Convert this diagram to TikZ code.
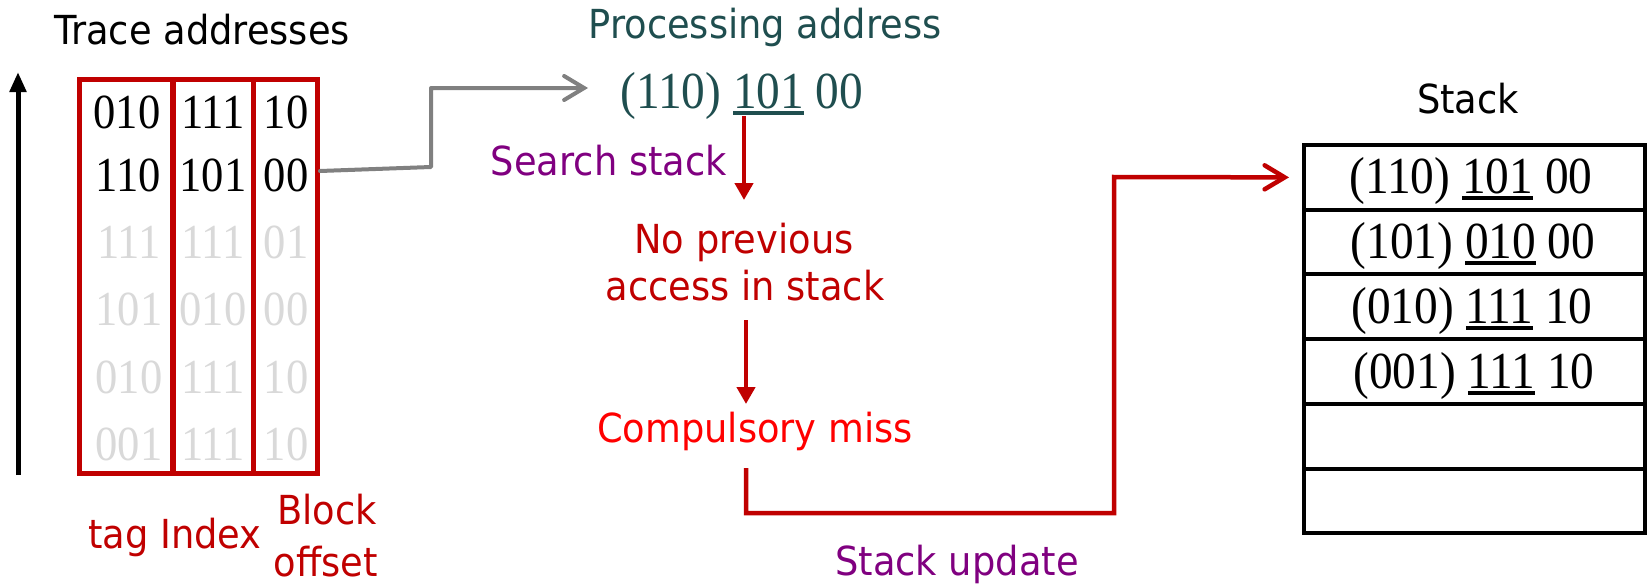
\documentclass[tikz,border=0pt]{standalone}
\usepackage{fontspec}
\setmainfont[FakeStretch=0.91]{Liberation Serif}
\newfontfamily\labelfont[FakeStretch=0.92]{DejaVu Sans}
\usetikzlibrary{arrows.meta}

\definecolor{boxred}{RGB}{192,0,0}
\definecolor{brightred}{RGB}{255,0,0}
\definecolor{purp}{RGB}{128,0,128}
\definecolor{tealtext}{RGB}{31,78,79}
\definecolor{faint}{RGB}{217,217,217}
\definecolor{conngray}{RGB}{128,128,128}

% underlined index field
\newcommand\undl[1]{\setbox0\hbox{#1}\rlap{\vrule height -3pt depth 6.5pt width \wd0}\box0\relax}

\begin{document}
\begin{tikzpicture}[x=1pt,y=-1pt,
  lbl/.style={font=\labelfont\fontsize{40}{48}\selectfont, inner sep=0pt, anchor=base},
  num/.style={font=\fontsize{49}{56}\selectfont, inner sep=0pt, anchor=base},
  addrtxt/.style={font=\fontsize{52}{60}\selectfont, inner sep=0pt, anchor=base},
  col/.style={draw=boxred, line width=5pt, inner sep=0pt, minimum height=394pt},
  cell/.style={draw=black, line width=4pt, minimum width=341pt, minimum height=64.7pt, inner sep=0pt},
  flow/.style={draw=boxred, line width=4.5pt, -{Triangle[width=18pt,length=17pt]}},
  barb/.style={line width=4pt, line cap=round, line join=round,
    -{Straight Barb[length=20pt,width=24pt,line cap=round]}}
]
\useasboundingbox (0,0) rectangle (1648,586);

% time axis
\coordinate (ax0) at (18,475);
\coordinate (ax1) at (18,72);
\draw[line width=5pt, -{Triangle[width=16pt,length=20pt]}] (ax0) -- (ax1);

\node[lbl] (trace) at (202,45) {Trace addresses};

% address fields
\node[col, minimum width=93pt] (tagcol) at (126,276) {};
\node[col, minimum width=80pt] (idxcol) at (213,276) {};
\node[col, minimum width=64pt] (offcol) at (285,276) {};

\node[num] (t1) at (127,128) {010};
\node[num] (i1) at (213,128) {111};
\node[num] (o1) at (286,128) {10};
\node[num] (t2) at (128,191) {110};
\node[num] (i2) at (213,191) {101};
\node[num] (o2) at (286,191) {00};
\node[num, text=faint] (t3) at (129,258) {111};
\node[num, text=faint] (i3) at (213,258) {111};
\node[num, text=faint] (o3) at (286,258) {01};
\node[num, text=faint] (t4) at (129,325) {101};
\node[num, text=faint] (i4) at (213,325) {010};
\node[num, text=faint] (o4) at (286,325) {00};
\node[num, text=faint] (t5) at (129,393) {010};
\node[num, text=faint] (i5) at (213,393) {111};
\node[num, text=faint] (o5) at (286,393) {10};
\node[num, text=faint] (t6) at (129,460) {001};
\node[num, text=faint] (i6) at (213,460) {111};
\node[num, text=faint] (o6) at (286,460) {10};

\node[lbl, text=boxred] (fields) at (175,548) {tag Index};
\node[lbl, text=boxred] (blk1) at (327,524) {Block};
\node[lbl, text=boxred] (blk2) at (326,576) {offset};

% address being processed
\node[lbl, text=tealtext] (proc) at (765,39) {Processing address};
\node[addrtxt, text=tealtext] (addr) at (742,108) {(110) \undl{101} 00};
\coordinate (g0) at (320,171);
\coordinate (g1) at (431,167);
\coordinate (g2) at (431,88);
\coordinate (g3) at (588,88);
\draw[barb, draw=conngray] (g0) -- (g1) -- (g2) -- (g3);

% lookup flow
\node[lbl, text=purp, anchor=base east] (search) at (727,175) {Search stack};
\node[lbl, text=boxred] (np1) at (744,253) {No previous};
\node[lbl, text=boxred] (np2) at (745,300) {access in stack};
\node[lbl, text=brightred] (miss) at (755,442) {Compulsory miss};
\node[lbl, text=purp] (upd) at (957,575) {Stack update};

\coordinate (a1s) at (744,116);
\coordinate (a1e) at (744,200);
\draw[flow] (a1s) -- (a1e);
\coordinate (a2s) at (746,320);
\coordinate (a2e) at (746,404);
\draw[flow] (a2s) -- (a2e);

% stack
\node[lbl] (stacktitle) at (1468,113) {Stack};
\node[cell] (s1) at (1474.5,177.4) {};
\node[cell] (s2) at (1474.5,242.1) {};
\node[cell] (s3) at (1474.5,306.8) {};
\node[cell] (s4) at (1474.5,371.5) {};
\node[cell] (s5) at (1474.5,436.2) {};
\node[cell] (s6) at (1474.5,500.9) {};
\node[addrtxt] (e1) at (1471,193) {(110) \undl{101} 00};
\node[addrtxt] (e2) at (1473,258) {(101) \undl{010} 00};
\node[addrtxt] (e3) at (1472,323) {(010) \undl{111} 10};
\node[addrtxt] (e4) at (1474,388) {(001) \undl{111} 10};

% update path into the top of the stack
\coordinate (u0) at (746,468);
\coordinate (u1) at (746,513);
\coordinate (u2) at (1114,513);
\coordinate (u3) at (1114,177);
\draw[barb, draw=boxred, line width=4.5pt, line cap=butt, line join=miter,
  shorten >=13pt] (u0) -- (u1) -- (u2) -- (u3) -- (s1.west);
\end{tikzpicture}
\end{document}
